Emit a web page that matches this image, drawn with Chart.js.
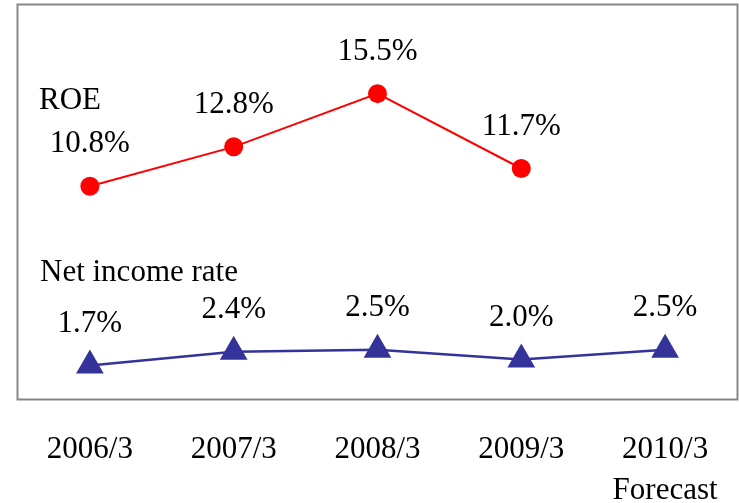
<!DOCTYPE html>
<html>
<head>
<meta charset="utf-8">
<script src="https://cdn.jsdelivr.net/npm/chart.js@4/dist/chart.umd.min.js"></script>
<style>
  html, body { margin: 0; padding: 0; background: #fff; }
  #wrap { width: 739px; height: 503px; }
</style>
</head>
<body>
<div id="wrap"><canvas id="chart" width="739" height="503"></canvas></div>
<script>
// Chart data
var categories = ['2006/3', '2007/3', '2008/3', '2009/3', ['2010/3', 'Forecast']];
var roeValues = [10.8, 12.8, 15.5, 11.7, null];
var netIncomeValues = [1.7, 2.4, 2.5, 2.0, 2.5];
var seriesNames = ['ROE', 'Net income rate'];

var serif = "'Liberation Serif', 'Times New Roman', serif";

// value labels, series names and the grey frame
var annotate = {
  id: 'annotate',
  afterDraw: function(chart) {
    var ctx = chart.ctx;
    var area = chart.chartArea;
    ctx.save();

    // frame round the plot area
    ctx.strokeStyle = '#878787';
    ctx.lineWidth = 2;
    ctx.strokeRect(area.left - 0.5, area.top - 0.5, area.right - area.left + 1, area.bottom - area.top + 1);

    ctx.fillStyle = '#000';
    ctx.font = '31px ' + serif;
    ctx.textAlign = 'center';
    ctx.textBaseline = 'alphabetic';
    chart.data.datasets.forEach(function(ds, i) {
      var meta = chart.getDatasetMeta(i);
      meta.data.forEach(function(pt, j) {
        var v = ds.data[j];
        if (v === null || v === undefined) return;
        ctx.fillText(v.toFixed(1) + '%', pt.x, pt.y - 34);
      });
    });

    // series names
    ctx.textAlign = 'left';
    ctx.fillText(seriesNames[0], area.left + 21, area.top + 104);
    ctx.fillText(seriesNames[1], area.left + 22, area.top + 276);
    ctx.restore();
  }
};

new Chart(document.getElementById('chart'), {
  type: 'line',
  data: {
    labels: categories,
    datasets: [{
      label: seriesNames[0],
      data: roeValues,
      borderColor: '#ff0000',
      backgroundColor: '#ff0000',
      borderWidth: 2,
      pointStyle: 'circle',
      pointRadius: 9.5,
      pointBorderWidth: 0,
      tension: 0
    }, {
      label: seriesNames[1],
      data: netIncomeValues,
      borderColor: '#333399',
      backgroundColor: '#333399',
      borderWidth: 2.5,
      pointStyle: 'triangle',
      pointRadius: 16,
      pointBorderWidth: 0,
      tension: 0
    }]
  },
  options: {
    responsive: false,
    animation: false,
    layout: { autoPadding: false, padding: { left: 18, right: 2, top: 5, bottom: 0 } },
    plugins: {
      legend: { display: false },
      tooltip: { enabled: false }
    },
    scales: {
      x: {
        offset: true,
        grid: { display: true, color: 'transparent', drawOnChartArea: false, drawTicks: true, tickLength: 31 },
        border: { display: false },
        ticks: {
          color: '#000',
          padding: 0,
          maxRotation: 0,
          autoSkip: false,
          font: { family: serif, size: 31, lineHeight: 1.3 }
        },
        afterFit: function(scale) { scale.height = 104; }
      },
      y: {
        display: false,
        min: 0,
        max: 20
      }
    }
  },
  plugins: [annotate]
});
</script>
</body>
</html>
